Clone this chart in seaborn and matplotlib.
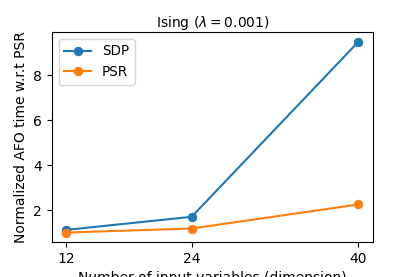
import matplotlib
matplotlib.use("Agg")
import matplotlib.pyplot as plt
import seaborn as sns
import pandas as pd

dimensions = [12, 24, 40]
sdp_values = [1.12, 1.70, 9.49]
psr_values = [1.00, 1.18, 2.25]
series_names = ["SDP", "PSR"]

df = pd.DataFrame({
    "dimension": dimensions * 2,
    "value": sdp_values + psr_values,
    "method": [series_names[0]] * 3 + [series_names[1]] * 3,
})

plt.rcParams["font.family"] = ["DejaVu Sans"]
fig = plt.figure(figsize=(4.15, 2.77), dpi=100)
ax = fig.add_axes([0.125, 0.126, 0.774, 0.758])
sns.lineplot(data=df, x="dimension", y="value", hue="method", marker="o",
             markeredgecolor=None, palette=["#1f77b4", "#ff7f0e"], ax=ax,
             linewidth=1.5, markersize=6)
ax.set_xticks(dimensions)
ax.set_yticks([2, 4, 6, 8])
ax.tick_params(labelsize=10)
ax.set_xlabel("Number of input variables (dimension)", fontsize=10)
ax.set_ylabel("Normalized AFO time w.r.t PSR", fontsize=10)
ax.set_title(r"Ising ($\lambda = 0.001$)", fontsize=10, pad=4)
leg = ax.legend(loc="upper left", fontsize=9.75)
leg.set_title(None)
fig.savefig("out.png", dpi=100)
